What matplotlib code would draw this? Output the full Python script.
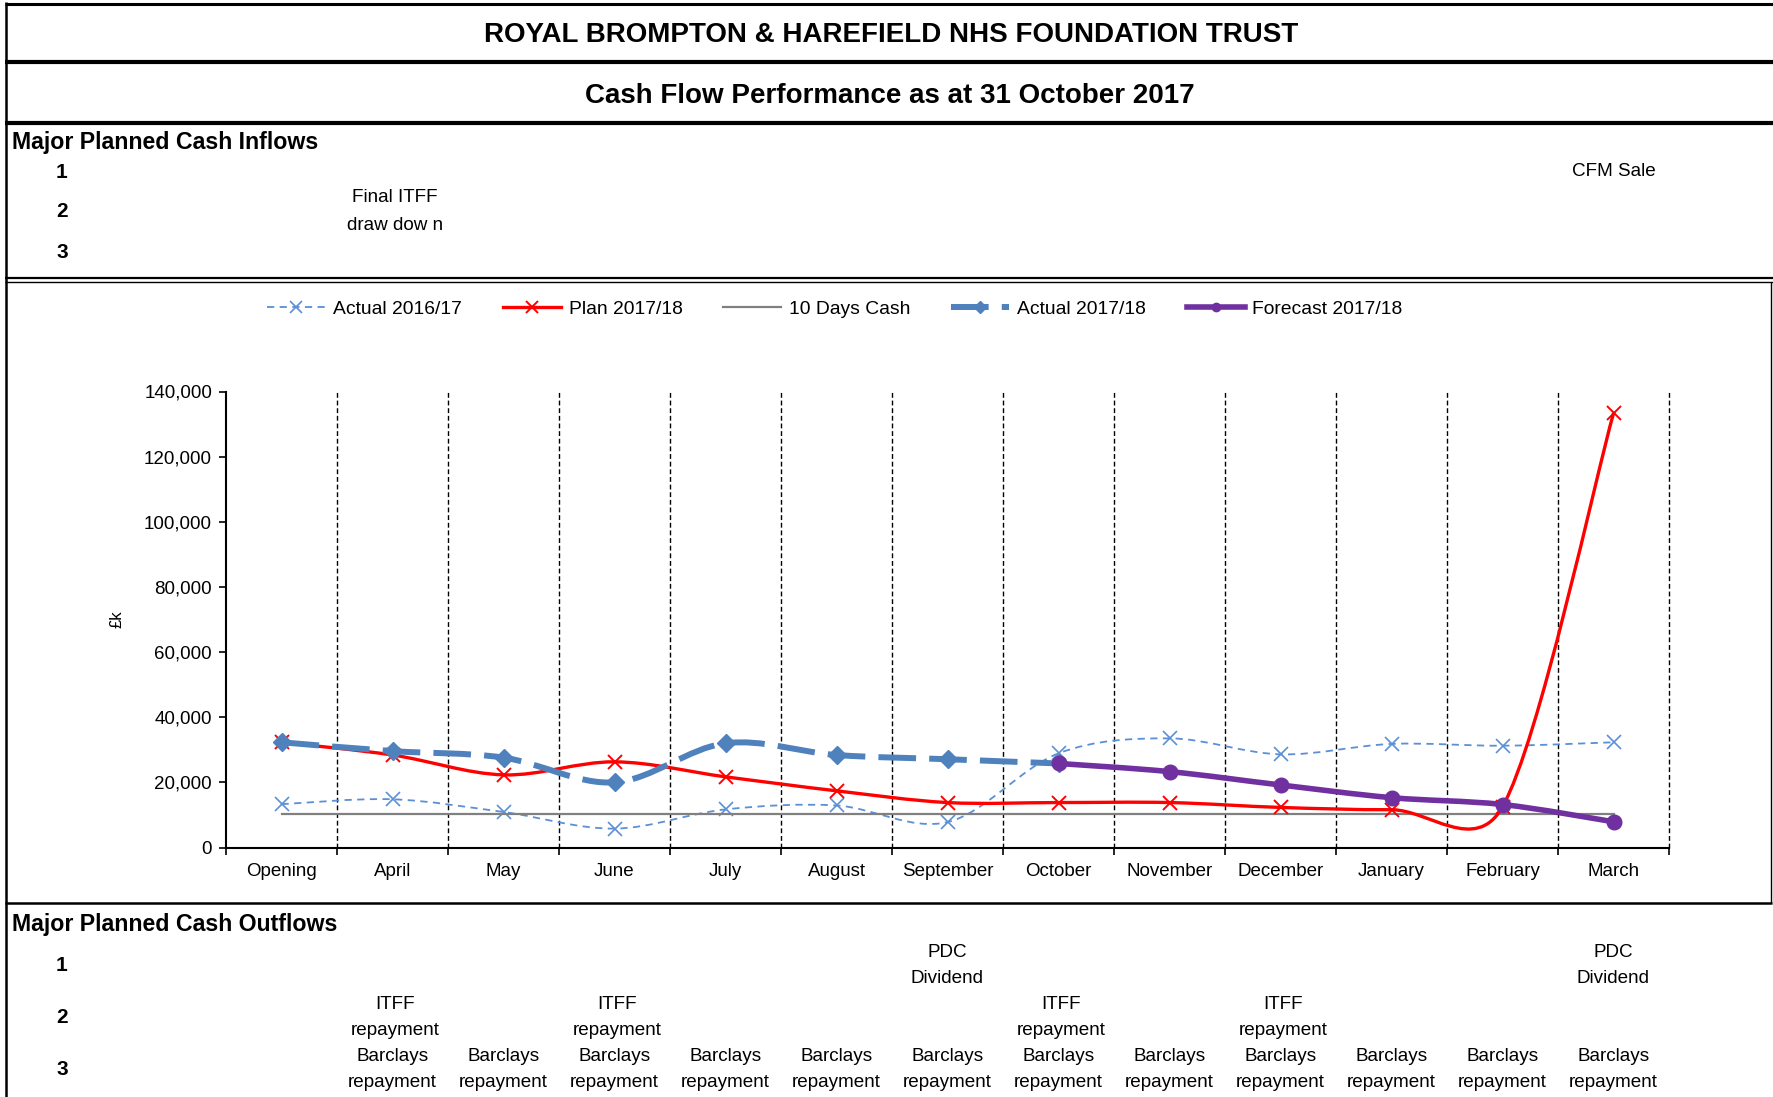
import numpy as np
import matplotlib
matplotlib.use('Agg')
import matplotlib.pyplot as plt
from matplotlib.path import Path
from matplotlib.patches import PathPatch
from matplotlib.lines import Line2D
import matplotlib.transforms as mtransforms
from matplotlib.ticker import FuncFormatter

plt.rcParams['font.family'] = ['Liberation Sans', 'DejaVu Sans']

# ---------------- data ----------------
categories = ['Opening', 'April', 'May', 'June', 'July', 'August', 'September',
              'October', 'November', 'December', 'January', 'February', 'March']
actual_1617 = [13300, 14800, 10900, 5800, 11700, 12900, 7800,
               28900, 33500, 28600, 31800, 31250, 32300]
plan_1718 = [32300, 28400, 22300, 26300, 21700, 17400, 13800,
             13800, 13800, 12300, 11600, 12500, 133300]
ten_days_cash = [10400, 10400, 10400, 10400, 10400, 10400, 10400,
                 10400, 10400, 10400, 10400, 10400, 10400]
actual_1718_months = ['Opening', 'April', 'May', 'June', 'July', 'August', 'September', 'October']
actual_1718 = [32300, 29600, 27600, 20000, 32000, 28400, 27100, 25800]
forecast_months = ['October', 'November', 'December', 'January', 'February', 'March']
forecast_1718 = [25800, 23300, 19200, 15300, 13200, 7900]
yticks = [0, 20000, 40000, 60000, 80000, 100000, 120000, 140000]

title1 = 'ROYAL BROMPTON & HAREFIELD NHS FOUNDATION TRUST'
title2 = 'Cash Flow Performance as at 31 October 2017'
outflow_pdc = ['September', 'March']
outflow_itff = ['April', 'June', 'October', 'December']
outflow_barclays = ['April', 'May', 'June', 'July', 'August', 'September', 'October',
                    'November', 'December', 'January', 'February', 'March']

# ---------------- styles ----------------
C_A1617 = '#5B8FD6'
C_PLAN = '#FF0000'
C_TEN = '#808080'
C_A1718 = '#4F81BD'
C_FC = '#7030A0'
FS = 13.5

W, H = 1774, 1097
fig = plt.figure(figsize=(W / 100, H / 100), dpi=100)
fig.patch.set_facecolor('white')

bg = fig.add_axes([0, 0, 1, 1], zorder=0)
bg.set_xlim(0, W)
bg.set_ylim(H, 0)
bg.axis('off')

# chart axes
ax_l, ax_r, ax_t, ax_b = 226, 1669, 391.5, 847.5
ax = fig.add_axes([ax_l / W, 1 - ax_b / H, (ax_r - ax_l) / W, (ax_b - ax_t) / H], zorder=2)
ax.patch.set_alpha(0)
ax.set_xlim(-0.5, len(categories) - 0.5)
ax.set_ylim(yticks[0], yticks[-1])

idx = {c: i for i, c in enumerate(categories)}


def smooth_path(xs, ys):
    """Excel-style smoothed line: cubic Bezier segments whose control points
    follow the neighbouring points (tension 1/6, limited to half a segment)."""
    pts = np.column_stack([xs, ys]).astype(float)
    scr = ax.transData.transform(pts)
    n = len(pts)
    verts = [pts[0]]
    codes = [Path.MOVETO]
    for i in range(n - 1):
        i0 = i - 1 if i > 0 else i
        i3 = i + 2 if i + 2 < n else i + 1
        p0, p1, p2, p3 = pts[i0], pts[i], pts[i + 1], pts[i3]
        s0, s1, s2, s3 = scr[i0], scr[i], scr[i + 1], scr[i3]
        d12 = np.hypot(*(s2 - s1))
        d02 = np.hypot(*(s2 - s0))
        d13 = np.hypot(*(s3 - s1))
        f1 = 1 / 6.0 if d02 == 0 else min(1 / 6.0, d12 / (2 * d02))
        f2 = 1 / 6.0 if d13 == 0 else min(1 / 6.0, d12 / (2 * d13))
        verts += [p1 + (p2 - p0) * f1, p2 - (p3 - p1) * f2, p2]
        codes += [Path.CURVE4] * 3
    return Path(verts, codes)


x_all = np.arange(len(categories))
x_act = [idx[m] for m in actual_1718_months]
x_fc = [idx[m] for m in forecast_months]

# Actual 2016/17
ax.add_patch(PathPatch(smooth_path(x_all, actual_1617), fill=False, edgecolor=C_A1617,
                       lw=1.3, linestyle=(0, (4, 3)), zorder=3))
ax.plot(x_all, actual_1617, ls='none', marker='x', ms=10, mew=1.2, color=C_A1617, zorder=3)
# Plan 2017/18
ax.add_patch(PathPatch(smooth_path(x_all, plan_1718), fill=False, edgecolor=C_PLAN,
                       lw=2.4, zorder=4))
ax.plot(x_all, plan_1718, ls='none', marker='x', ms=10, mew=1.4, color=C_PLAN, zorder=4)
# 10 days cash
ax.plot(x_all, ten_days_cash, color=C_TEN, lw=1.6, zorder=3.5)
# Actual 2017/18
ax.add_patch(PathPatch(smooth_path(x_act, actual_1718), fill=False, edgecolor=C_A1718,
                       lw=4.3, linestyle=(0, (6.3, 2.2)), capstyle='butt', zorder=5))
ax.plot(x_act, actual_1718, ls='none', marker='D', ms=9.5, color=C_A1718, zorder=5)
# Forecast 2017/18
ax.add_patch(PathPatch(smooth_path(x_fc, forecast_1718), fill=False, edgecolor=C_FC,
                       lw=4.0, zorder=6))
ax.plot(x_fc, forecast_1718, ls='none', marker='o', ms=10.5, color=C_FC, zorder=6)

# dashed vertical separators
bounds = np.arange(len(categories)) + 0.5
ax.vlines(bounds, yticks[0], yticks[-1], colors='black', linestyles=(0, (3.5, 2)), lw=1.0,
          zorder=2, clip_on=False)

# ticks
ax.set_xticks(np.arange(-0.5, len(categories), 1.0))
ax.set_xticklabels([])
ax.set_xticks(x_all, minor=True)
ax.set_xticklabels(categories, minor=True, fontsize=FS)
ax.tick_params(axis='x', which='major', direction='out', length=5, width=1.2, color='black')
ax.tick_params(axis='x', which='minor', length=0, pad=11)
ax.set_yticks(yticks)
ax.yaxis.set_major_formatter(FuncFormatter(lambda v, p: f'{int(v):,}'))
ax.tick_params(axis='y', direction='out', length=5, width=1.2, labelsize=FS, pad=5)
for s in ['top', 'right']:
    ax.spines[s].set_visible(False)
for s in ['left', 'bottom']:
    ax.spines[s].set_linewidth(1.5)
ax.set_ylabel('£k', fontsize=12)
ax.yaxis.set_label_coords(-0.070, 0.5)

# legend
handles = [
    Line2D([], [], color=C_A1617, lw=1.3, ls=(0, (4, 3)), marker='x', ms=9, mew=1.2),
    Line2D([], [], color=C_PLAN, lw=2.4, marker='x', ms=9, mew=1.4),
    Line2D([], [], color=C_TEN, lw=1.6),
    Line2D([], [], color=C_A1718, lw=4.3, ls=(0, (6.3, 2.2)), marker='D', ms=6),
    Line2D([], [], color=C_FC, lw=4.0, marker='o', ms=6),
]
labels = ['Actual 2016/17', 'Plan 2017/18', '10 Days Cash', 'Actual 2017/18', 'Forecast 2017/18']
ax.legend(handles, labels, loc='center', bbox_to_anchor=(835 / W, 1 - 309 / H),
          bbox_transform=fig.transFigure, ncol=5, frameon=False, fontsize=13.9,
          handlelength=3.0, handletextpad=0.4, columnspacing=2.12)

# ---------------- spreadsheet frame ----------------
k = 'black'
bg.hlines(3.5, 5, W, colors=k, lw=2.2)
bg.hlines(62, 5, W, colors=k, lw=3.0)
bg.hlines(122.5, 5, W, colors=k, lw=3.0)
bg.hlines(277.5, 5, W, colors=k, lw=1.6)
bg.hlines(282, 5, W, colors=k, lw=1.0)
bg.hlines(903, 5, 1772, colors=k, lw=1.8)
bg.vlines(6, 2, H, colors=k, lw=1.8)
bg.vlines(1771.5, 282, 903, colors=k, lw=1.0)

bg.text(891, 35.5, title1, ha='center', va='center', fontsize=20, fontweight='bold')
bg.text(890, 96, title2, ha='center', va='center', fontsize=20, fontweight='bold')

bg.text(12, 142.5, 'Major Planned Cash Inflows', ha='left', va='center', fontsize=16.7, fontweight='bold')
for n, yy in zip(['1', '2', '3'], [173, 211.5, 253]):
    bg.text(62, yy, n, ha='center', va='center', fontsize=15, fontweight='bold')

bg.text(12, 925, 'Major Planned Cash Outflows', ha='left', va='center', fontsize=16.7, fontweight='bold')
for n, yy in zip(['1', '2', '3'], [965.5, 1017.5, 1069.5]):
    bg.text(62, yy, n, ha='center', va='center', fontsize=15, fontweight='bold')

# cell notes aligned to chart months
tr = mtransforms.blended_transform_factory(ax.transData, bg.transData)
note_fs = 13.6
bg.text(idx['April'] + 0.02, 198, 'Final ITFF', transform=tr, ha='center', va='center', fontsize=note_fs)
bg.text(idx['April'] + 0.02, 225, 'draw dow n', transform=tr, ha='center', va='center', fontsize=note_fs)
bg.text(idx['March'], 172, 'CFM Sale', transform=tr, ha='center', va='center', fontsize=note_fs)
for m in outflow_pdc:
    bg.text(idx[m], 952.5, 'PDC', transform=tr, ha='center', va='center', fontsize=note_fs)
    bg.text(idx[m], 978.5, 'Dividend', transform=tr, ha='center', va='center', fontsize=note_fs)
for m in outflow_itff:
    bg.text(idx[m] + 0.02, 1004.5, 'ITFF', transform=tr, ha='center', va='center', fontsize=note_fs)
    bg.text(idx[m] + 0.02, 1030.5, 'repayment', transform=tr, ha='center', va='center', fontsize=note_fs)
for m in outflow_barclays:
    bg.text(idx[m], 1056.5, 'Barclays', transform=tr, ha='center', va='center', fontsize=note_fs)
    bg.text(idx[m], 1082.5, 'repayment', transform=tr, ha='center', va='center', fontsize=note_fs)

fig.savefig('out.png', dpi=100, facecolor='white')
